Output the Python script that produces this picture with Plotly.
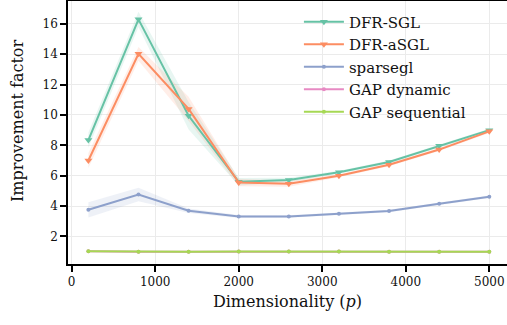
import plotly.graph_objects as go

# ---- data ----
dims = [200, 800, 1400, 2000, 2600, 3200, 3800, 4400, 5000]

dfr_sgl = [8.35, 16.3, 9.95, 5.6, 5.72, 6.22, 6.9, 7.97, 9.0]
dfr_sgl_lo = [7.85, 15.8, 9.05, 5.35, 5.57, 6.12, 6.8, 7.87, 8.9]
dfr_sgl_hi = [8.85, 16.8, 10.85, 5.85, 5.87, 6.32, 7.0, 8.07, 9.1]

dfr_asgl = [7.0, 14.03, 10.4, 5.55, 5.47, 6.0, 6.72, 7.72, 8.92]
dfr_asgl_lo = [6.5, 13.58, 9.6, 5.3, 5.27, 5.9, 6.62, 7.62, 8.82]
dfr_asgl_hi = [7.5, 14.48, 11.2, 5.8, 5.67, 6.1, 6.82, 7.82, 9.02]

sparsegl = [3.75, 4.76, 3.69, 3.31, 3.31, 3.49, 3.67, 4.15, 4.61]
sparsegl_lo = [3.25, 4.31, 3.54, 3.21, 3.23, 3.41, 3.59, 4.07, 4.53]
sparsegl_hi = [4.25, 5.21, 3.84, 3.41, 3.39, 3.57, 3.75, 4.23, 4.69]

gap_dyn = [1.02, 0.98, 0.99, 1.0, 1.0, 1.01, 0.99, 0.99, 0.99]
gap_dyn_lo = [0.97, 0.93, 0.94, 0.95, 0.95, 0.96, 0.94, 0.94, 0.94]
gap_dyn_hi = [1.07, 1.03, 1.04, 1.05, 1.05, 1.06, 1.04, 1.04, 1.04]

gap_seq = [1.02, 0.99, 0.99, 1.0, 1.0, 1.01, 0.99, 0.99, 0.99]
gap_seq_lo = [0.98, 0.95, 0.95, 0.96, 0.96, 0.97, 0.95, 0.95, 0.95]
gap_seq_hi = [1.06, 1.03, 1.03, 1.04, 1.04, 1.05, 1.03, 1.03, 1.03]

x_ticks = [0, 1000, 2000, 3000, 4000, 5000]
y_ticks = [2, 4, 6, 8, 10, 12, 14, 16]

series = [
    ("DFR-SGL", dfr_sgl, dfr_sgl_lo, dfr_sgl_hi, "#66c2a5", "rgba(102,194,165,0.15)", "triangle-down", 7),
    ("DFR-aSGL", dfr_asgl, dfr_asgl_lo, dfr_asgl_hi, "#fc8d62", "rgba(252,141,98,0.15)", "triangle-down", 7),
    ("sparsegl", sparsegl, sparsegl_lo, sparsegl_hi, "#8da0cb", "rgba(141,160,203,0.15)", "circle", 4),
    ("GAP dynamic", gap_dyn, gap_dyn_lo, gap_dyn_hi, "#e78ac3", "rgba(231,138,195,0.15)", "circle", 4),
    ("GAP sequential", gap_seq, gap_seq_lo, gap_seq_hi, "#a6d854", "rgba(166,216,84,0.15)", "circle", 4),
]

FONT = "DejaVu Serif"
fig = go.Figure()

for name, y, lo, hi, col, fillcol, sym, msize in series:
    fig.add_trace(go.Scatter(x=dims, y=lo, mode="lines", line=dict(width=0),
                             showlegend=False, hoverinfo="skip"))
    fig.add_trace(go.Scatter(x=dims, y=hi, mode="lines", line=dict(width=0),
                             fill="tonexty", fillcolor=fillcol,
                             showlegend=False, hoverinfo="skip"))

for name, y, lo, hi, col, fillcol, sym, msize in series:
    fig.add_trace(go.Scatter(x=dims, y=y, mode="lines+markers", name=name,
                             line=dict(color=col, width=2),
                             marker=dict(symbol=sym, size=msize, color=col,
                                         line=dict(width=0))))

fig.update_layout(
    width=507, height=325,
    margin=dict(l=68, r=0, t=1, b=61),
    paper_bgcolor="white", plot_bgcolor="white",
    font=dict(family=FONT, size=13, color="#111"),
    showlegend=True,
    legend=dict(x=0.526, y=0.9825, xanchor="left", yanchor="top",
                traceorder="normal", itemwidth=40,
                bgcolor="rgba(255,255,255,0)", borderwidth=0,
                font=dict(family=FONT, size=15, color="#111"),
                tracegroupgap=0),
    xaxis=dict(range=[-44, 5212], tickvals=x_ticks, ticktext=[str(v) for v in x_ticks],
               showgrid=True, gridcolor="#ebebeb", gridwidth=1,
               zeroline=False, showline=True, linecolor="black", linewidth=1.5,
               mirror=True, ticks="outside", ticklen=6, tickwidth=1.5, tickcolor="black",
               tickfont=dict(family=FONT, size=12, color="#111"),
               title=dict(text="Dimensionality (<i>p</i>)", standoff=8,
                          font=dict(family=FONT, size=16, color="#111"))),
    yaxis=dict(range=[0.18, 17.51], tickvals=y_ticks, ticktext=[str(v) for v in y_ticks],
               showgrid=True, gridcolor="#ebebeb", gridwidth=1,
               zeroline=False, showline=True, linecolor="black", linewidth=1.5,
               mirror=False, ticks="outside", ticklen=6, tickwidth=1.5, tickcolor="black",
               tickfont=dict(family=FONT, size=12, color="#111")),
    annotations=[dict(text="Improvement factor", xref="paper", yref="paper",
                      x=-68/439, y=1 - (121.5 - 1) / 263, xanchor="left", yanchor="middle",
                      xshift=6, textangle=-90, showarrow=False,
                      font=dict(family=FONT, size=16, color="#111"))],
)

fig.write_html("out.html")
